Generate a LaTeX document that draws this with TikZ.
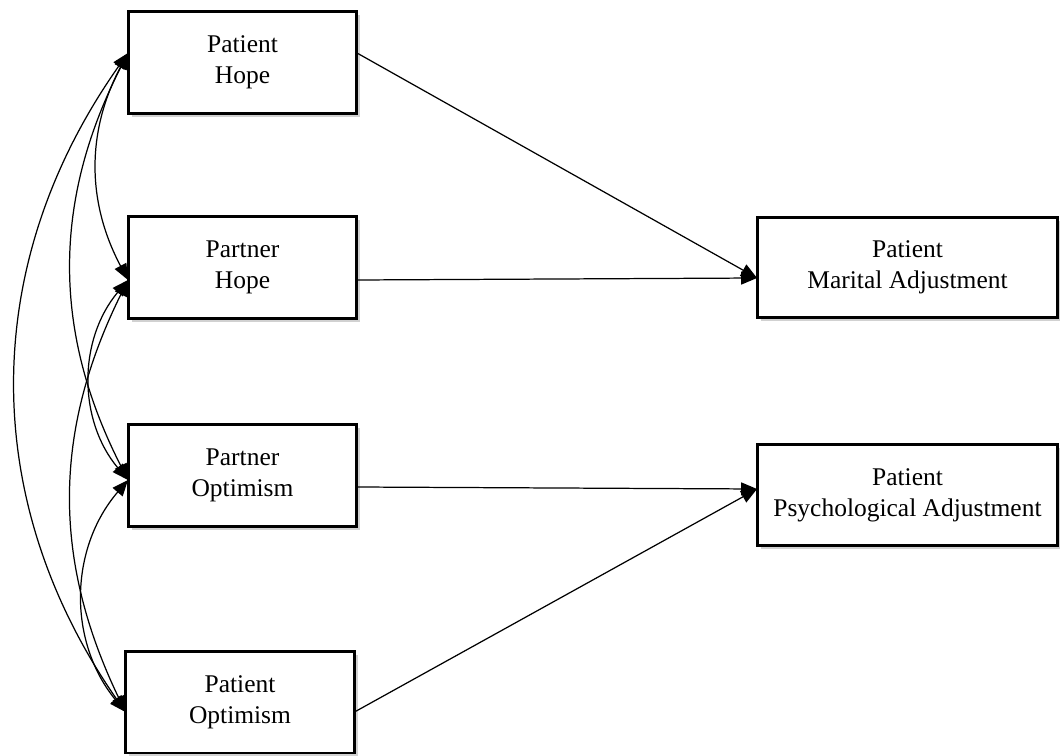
\documentclass[tikz,border=0pt]{standalone}
\usepackage{fontspec}
\setmainfont{Liberation Serif}
\usepackage{tikz}
\usetikzlibrary{positioning,arrows.meta,shadows}
\tikzset{>={Triangle[length=3.2mm,width=2.6mm]}}

\begin{document}
\begin{tikzpicture}[x=0.02cm, y=-0.02cm,
  VAR/.style={draw, line width=1.7pt, fill=white, align=center,
              font=\fontsize{14.5}{17.6}\selectfont,
              inner sep=0pt, outer sep=0pt,
              drop shadow={shadow xshift=0.7mm, shadow yshift=-0.7mm,
                           opacity=0.18, fill=black}},
  LEFT/.style={VAR, minimum width=4.58cm, minimum height=2.04cm},
  RIGHT/.style={VAR, minimum width=6.02cm, minimum height=2.02cm},
  PATH/.style={line width=0.7pt, ->},
  COV/.style={line width=0.7pt, <->}
]
\useasboundingbox (0,0) rectangle (1060,756);

% left boxes
\node[LEFT] (pathope)  at (242.5,62.5)  {Patient\\Hope};
\node[LEFT] (parthope) at (242.5,267.5) {Partner\\Hope};
\node[LEFT] (partopt)  at (242.5,475.5) {Partner\\Optimism};
\node[LEFT] (patopt)   at (240,702)     {Patient\\Optimism};

% right boxes
\node[RIGHT] (marital) at (907.5,267.5) {Patient\\Marital Adjustment};
\node[RIGHT] (psych)   at (907.5,495)   {Patient\\Psychological Adjustment};

% anchor points
\coordinate (pathope-l)  at (pathope.west  |- 0,53);
\coordinate (parthope-l) at (parthope.west |- 0,280);
\coordinate (partopt-l)  at (partopt.west  |- 0,480);
\coordinate (patopt-l)   at (patopt.west   |- 0,712);
\coordinate (pathope-r)  at (pathope.east  |- 0,53);
\coordinate (parthope-r) at (parthope.east |- 0,280);
\coordinate (partopt-r)  at (partopt.east  |- 0,487);
\coordinate (patopt-r)   at (patopt.east   |- 0,712);
\coordinate (marital-l)  at (marital.west  |- 0,278);
\coordinate (psych-l)    at (psych.west    |- 0,489);

% paths
\draw[PATH] (pathope-r)  -- (marital-l);
\draw[PATH] (parthope-r) -- (marital-l);
\draw[PATH] (partopt-r)  -- (psych-l);
\draw[PATH] (patopt-r)   -- (psych-l);

% covariances
\draw[COV] (pathope-l)  to[bend right=28] (parthope-l);
\draw[COV] (pathope-l)  to[bend right=27] (partopt-l);
\draw[COV] (pathope-l)  to[bend right=35] (patopt-l);
\draw[COV] (parthope-l) to[bend right=40] (partopt-l);
\draw[COV] (parthope-l) to[bend right=26] (patopt-l);
\draw[COV] (partopt-l)  to[bend right=40] (patopt-l);
\end{tikzpicture}
\end{document}
